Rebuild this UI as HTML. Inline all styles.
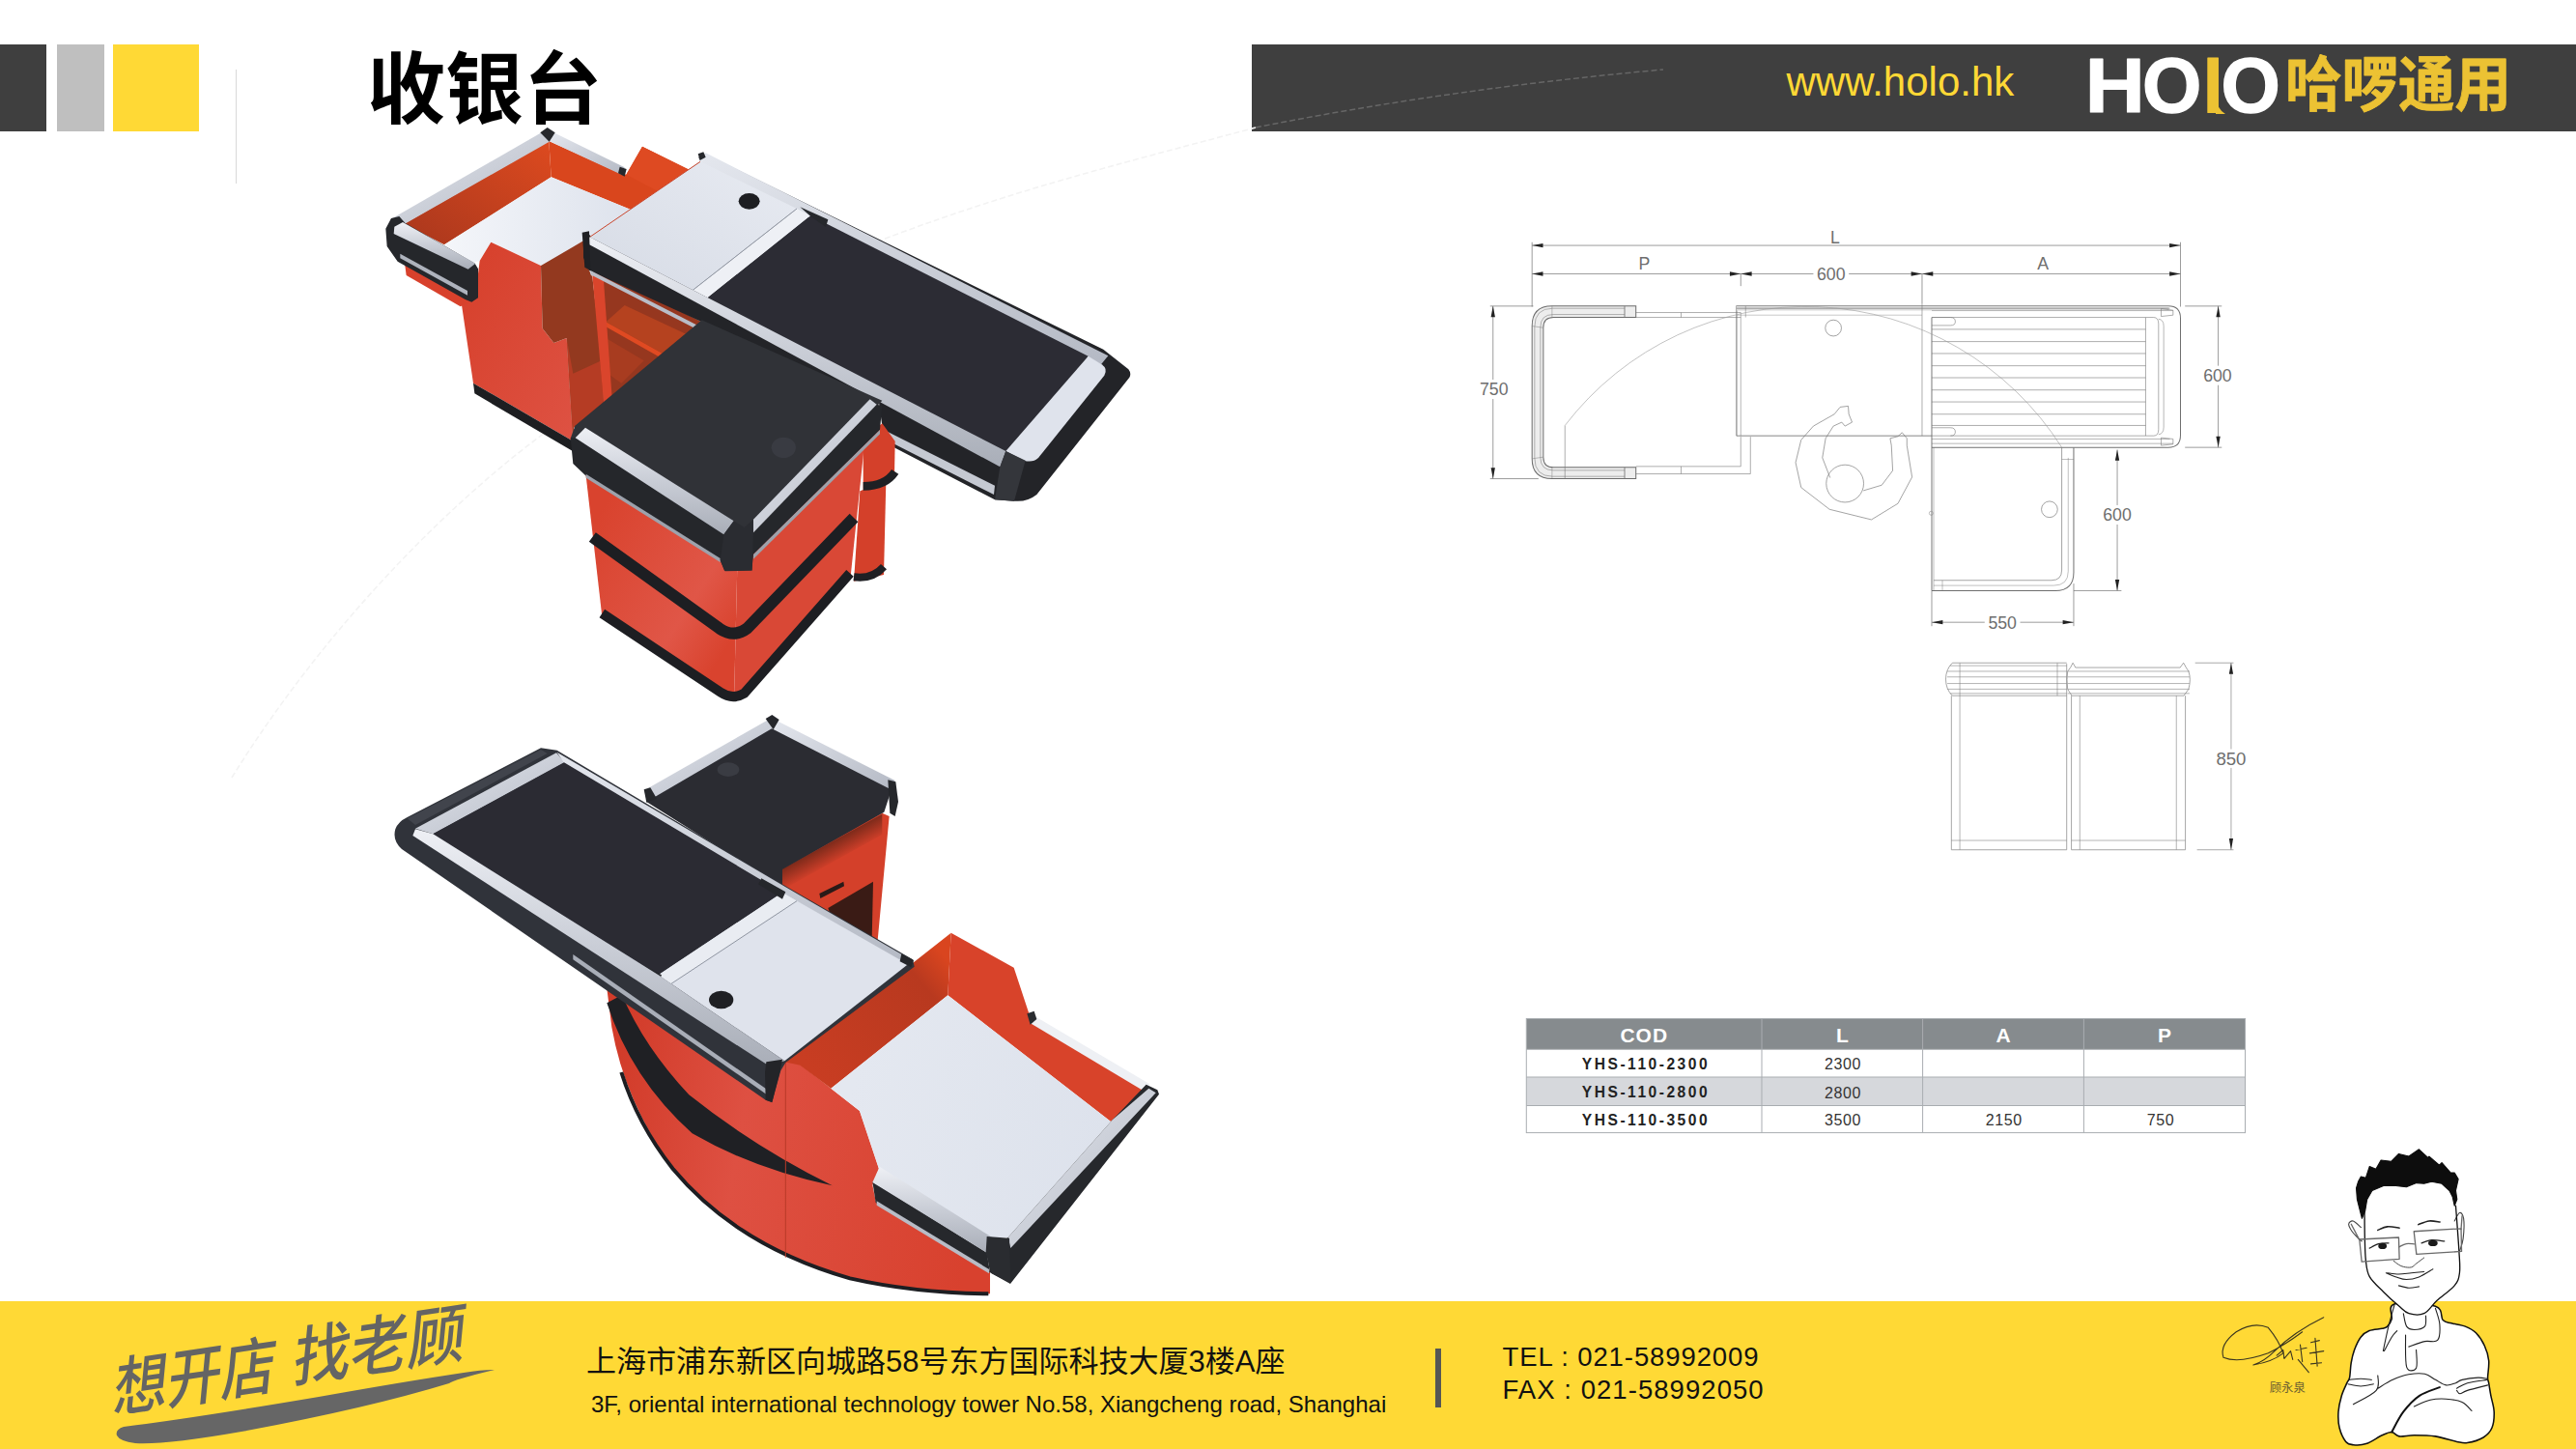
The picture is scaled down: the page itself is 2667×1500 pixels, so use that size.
<!DOCTYPE html>
<html lang="zh">
<head>
<meta charset="utf-8">
<title>收银台</title>
<style>
html,body{margin:0;padding:0;background:#fff;}
body{width:2667px;height:1500px;position:relative;overflow:hidden;font-family:"Liberation Sans","Noto Sans CJK SC",sans-serif;}
.abs{position:absolute;}
.blk{position:absolute;top:46px;height:90px;}
#title{left:380px;top:35px;font-size:81px;font-weight:700;line-height:116px;color:#000;white-space:nowrap;font-family:"Liberation Sans","Noto Sans CJK SC",sans-serif;}
#hbar{left:1296px;top:46px;width:1371px;height:90px;background:#3f3f3f;}
#url{left:1849.5px;top:64px;font-size:42px;line-height:42px;color:#fdd835;white-space:nowrap;}
#holo{left:2160px;top:46px;height:90px;white-space:nowrap;}
#footer{left:0;top:1347px;width:2667px;height:153px;background:#ffd935;}
.ft{position:absolute;white-space:nowrap;color:#111;}
#g{position:absolute;left:0;top:0;width:2667px;height:1500px;}
table{border-collapse:collapse;}
</style>
</head>
<body>
<!-- header blocks -->
<div class="blk" style="left:0;width:48px;background:#3f3f3f"></div>
<div class="blk" style="left:59px;width:49px;background:#bfbfbf"></div>
<div class="blk" style="left:117px;width:89px;background:#ffd935"></div>
<div class="abs" style="left:244px;top:72px;width:1px;height:118px;background:#d9d9d9"></div>
<div id="title" class="abs">收银台</div>
<div id="hbar" class="abs"></div>
<div id="url" class="abs">www.holo.hk</div>

<!-- footer -->
<div id="footer" class="abs"></div>

<!-- GRAPHICS -->
<svg id="g" viewBox="0 0 2667 1500">
<!-- faint decorative arc -->
<path d="M240,805 C330,660 450,535 552,457 S800,290 927,243 S1150,172 1300,132" fill="none" stroke="#f3f3f3" stroke-width="1.6" stroke-dasharray="6 3"/>
<path d="M1300,132 Q1500,92 1722,72" fill="none" stroke="#666" stroke-width="1.5" stroke-dasharray="6 3"/>
<!-- table -->
<g font-family="'Liberation Sans',sans-serif">
<rect x="1580.3" y="1054.5" width="744.2" height="31.8" fill="#868b8e"/>
<rect x="1580.3" y="1086.3" width="744.2" height="28.7" fill="#ffffff"/>
<rect x="1580.3" y="1115" width="744.2" height="29.5" fill="#d6d8dc"/>
<rect x="1580.3" y="1144.5" width="744.2" height="28.1" fill="#ffffff"/>
<g stroke="#a9adb1" stroke-width="1" fill="none">
<rect x="1580.3" y="1054.5" width="744.2" height="118.1"/>
<path d="M1824,1054.5 V1172.6 M1990.6,1054.5 V1172.6 M2157.4,1054.5 V1172.6 M1580.3,1086.3 H2324.5 M1580.3,1115 H2324.5 M1580.3,1144.5 H2324.5"/>
</g>
<g fill="#fff" font-weight="700" font-size="21" text-anchor="middle">
<text x="1702.3" y="1078.8" letter-spacing="1">COD</text><text x="1907.3" y="1078.8">L</text><text x="2074" y="1078.8">A</text><text x="2241" y="1078.8">P</text>
</g>
<g fill="#222" font-weight="700" font-size="15.6" text-anchor="middle" letter-spacing="2.5">
<text x="1704" y="1107.2">YHS-110-2300</text><text x="1704" y="1136.3">YHS-110-2800</text><text x="1704" y="1165">YHS-110-3500</text>
</g>
<g fill="#333" font-size="16" text-anchor="middle" letter-spacing="0.6">
<text x="1908" y="1107.4">2300</text><text x="1908" y="1136.5">2800</text><text x="1908" y="1165.2">3500</text><text x="2074.7" y="1165.2">2150</text><text x="2237" y="1165.2">750</text>
</g>
</g>

<!-- PRODUCT 1 (coords in 3x tile space, origin 380,120) -->
<defs>
<linearGradient id="alu" x1="0" y1="0" x2="0" y2="1"><stop offset="0" stop-color="#eef0f5"/><stop offset="0.5" stop-color="#c9cdd6"/><stop offset="1" stop-color="#a9aeb8"/></linearGradient>
<linearGradient id="aluD" x1="0" y1="0" x2="1" y2="1"><stop offset="0" stop-color="#e4e7ee"/><stop offset="1" stop-color="#b4b9c4"/></linearGradient>
<linearGradient id="redL" x1="0" y1="1" x2="1" y2="0"><stop offset="0" stop-color="#a9371d"/><stop offset="1" stop-color="#dd4a1f"/></linearGradient>
<linearGradient id="redF" x1="0" y1="0" x2="1" y2="1"><stop offset="0" stop-color="#d63f2a"/><stop offset="1" stop-color="#de5243"/></linearGradient>
<linearGradient id="floor1" x1="0" y1="0" x2="1" y2="0"><stop offset="0" stop-color="#f4f6fa"/><stop offset="1" stop-color="#dde2ec"/></linearGradient>
<linearGradient id="plate1" x1="0" y1="1" x2="1" y2="0"><stop offset="0" stop-color="#d6dbe5"/><stop offset="1" stop-color="#e8ebf2"/></linearGradient>
</defs>
<g transform="translate(380 120) scale(0.333333)">
<!-- tray inner walls -->
<polygon points="115,335 565,78 572,190 240,400" fill="url(#redL)"/>
<polygon points="565,78 790,180 805,182 855,95 1002,168 832,296 572,190" fill="#d9461d"/>
<polygon points="855,95 1002,168 905,235 805,182" fill="#de4a22"/>
<!-- floor -->
<polygon points="240,400 572,190 832,296 700,384 540,465 385,392 350,450 330,455" fill="url(#floor1)"/>
<!-- tray rails -->
<polygon points="72,322 548,48 566,80 112,338" fill="url(#aluD)"/>
<polygon points="580,52 800,160 790,182 565,78" fill="url(#aluD)"/>
<polygon points="538,52 560,36 584,52 566,80" fill="#26282c"/>
<polygon points="785,158 806,165 800,188 780,178" fill="#26282c"/>
<!-- main cabinet left face -->
<polygon points="385,392 540,465 545,660 580,705 620,690 640,1010 330,830 290,560 335,570 350,450" fill="url(#redF)"/>
<polygon points="330,830 640,1010 640,1042 334,862" fill="#1d1e21"/>
<!-- brown side face -->
<polygon points="540,465 672,388 690,480 700,500 725,720 735,891 642,968 640,1010 620,690 580,705 545,660" fill="#93391f"/>
<polygon points="620,690 640,1010 642,968 735,891 728,760 640,800" fill="#b53c24"/>
<!-- interior -->
<polygon points="700,470 1040,640 1040,665 760,885 735,891" fill="#96371f"/>
<polygon points="742,640 800,588 1000,682 930,745" fill="#b5421f"/><polygon points="742,640 930,745 925,758 742,655" fill="#e04a22"/>
<polygon points="742,690 860,760 790,830 748,800" fill="#a83c20"/>
<polygon points="700,495 735,512 761,875 735,891" fill="#da452c"/>
<!-- red band under near rail -->
<polygon points="116,450 325,575 290,592 122,495" fill="#d8412c"/>
<!-- tray near rail -->
<polygon points="58,350 75,318 100,312 118,332 335,458 345,475 345,565 325,578 305,570 95,452 62,405" fill="#25272b"/>
<polygon points="85,344 111,330 337,458 314,476 83,366" fill="url(#alu)"/>
<polygon points="103,428 312,543 312,557 103,442" fill="#aeb3bd"/>
<!-- conveyor silhouette -->
<path d="M1030,128 L1050,118 L2287,725 L2365,787 Q2375,800 2368,812 L2080,1176 Q2050,1200 2010,1196 L1950,1192 L1607,1014 L1590,890 L1040,640 L690,480 L672,440 L672,372 L690,368 L700,380 L1035,142 Z" fill="#232428"/>
<!-- far rail -->
<polygon points="1035,122 1052,115 2302,745 2280,772 1032,144" fill="url(#aluD)"/>
<polygon points="1028,118 1045,112 1052,128 1034,138" fill="#26282c"/>
<!-- gray plate -->
<polygon points="1035,142 1335,288 1012,541 692,376" fill="url(#plate1)"/>
<polygon points="1335,288 1378,310 1058,565 1012,541" fill="#eef0f5"/>
<line x1="1335" y1="288" x2="1012" y2="541" stroke="#9096a2" stroke-width="3"/>
<line x1="692" y1="376" x2="1035" y2="142" stroke="#c9452c" stroke-width="3"/>
<ellipse cx="1187" cy="265" rx="33" ry="25" fill="#1d1e22"/>
<!-- belt -->
<polygon points="1378,310 2240,746 1984,1041 1058,565" fill="#2c2c34"/>
<polygon points="1345,283 1432,322 1425,345 1378,312" fill="#26282c"/>
<!-- end plate -->
<path d="M2240,746 L2282,772 Q2302,786 2290,806 L2085,1062 Q2068,1078 2040,1070 L1984,1041 Z" fill="#dfe3ec"/>
<!-- near rail -->
<polygon points="692,376 1984,1041 1966,1090 682,395" fill="url(#alu)"/>
<polygon points="668,362 690,358 694,480 676,470" fill="#1f2024"/>
<!-- lower alu strip on near side -->
<polygon points="1595,970 1950,1148 1947,1176 1597,998" fill="#c5c9d2"/>
<polygon points="694,480 1035,655 1035,668 694,493" fill="#b9bdc7"/>
<!-- end corner -->
<polygon points="1984,1041 2045,1070 2010,1196 1950,1192 1966,1090" fill="#34363b"/>

<!-- right cylinder -->
<polygon points="1541,1005 1600,955 1640,1010 1638,1120 1541,1160" fill="#d4402a"/>
<polygon points="1531,1165 1612,1135 1605,1425 1512,1445" fill="#d4402a"/>
<path d="M1541,1150 Q1610,1150 1640,1105" stroke="#1f2024" stroke-width="26" fill="none"/>
<path d="M1512,1432 Q1570,1440 1605,1400" stroke="#1f2024" stroke-width="24" fill="none"/>
<!-- front cabinet red faces -->
<linearGradient id="cabL" gradientUnits="userSpaceOnUse" x1="680" y1="1300" x2="1150" y2="1600"><stop offset="0" stop-color="#d9432e"/><stop offset="0.7" stop-color="#e05647"/><stop offset="1" stop-color="#d9432e"/></linearGradient>
<polygon points="678,1100 1150,1395 1140,1815 1100,1800 730,1555" fill="url(#cabL)"/>
<polygon points="1150,1395 1548,990 1502,1430 1172,1808 1140,1815" fill="#d94836"/>
<path d="M700,1308 L1095,1592 Q1140,1622 1180,1592 L1512,1248" stroke="#1d1e22" stroke-width="36" fill="none"/>
<path d="M730,1545 L1098,1790 Q1135,1815 1172,1793 L1500,1420" stroke="#1d1e22" stroke-width="30" fill="none"/>
<!-- black top -->
<polygon points="632,1002 646,962 1040,634 1600,884 1185,1310 1110,1310" fill="#303237"/>
<!-- band under strips -->
<polygon points="632,1000 647,1000 1108,1300 1200,1294 1583,896 1600,900 1593,975 1200,1362 1195,1410 1110,1412 1097,1380 678,1116 640,1080" fill="#25272b"/>
<polygon points="680,1112 1097,1374 1097,1386 680,1124" fill="#9da2ac"/>
<polygon points="1200,1362 1593,975 1593,988 1200,1376" fill="#9da2ac"/>
<!-- strips -->
<polygon points="678,968 1139,1258 1108,1300 647,1000" fill="url(#alu)"/>
<polygon points="1200,1253 1562,880 1583,896 1200,1294" fill="url(#aluD)"/>
<polygon points="1108,1300 1139,1258 1172,1278 1200,1253 1200,1294 1196,1412 1112,1414 1097,1380" fill="#2a2c31"/>
<ellipse cx="1294" cy="1030" rx="38" ry="32" fill="#393b42"/>
</g>

<!-- PRODUCT 2 (coords in 3x tile space, origin 380,730) -->
<defs>
<linearGradient id="drum" gradientUnits="userSpaceOnUse" x1="750" y1="1300" x2="1900" y2="1500"><stop offset="0" stop-color="#d23c2a"/><stop offset="0.35" stop-color="#de5042"/><stop offset="1" stop-color="#d8412e"/></linearGradient>
<linearGradient id="wallL" gradientUnits="userSpaceOnUse" x1="1400" y1="1150" x2="1810" y2="800"><stop offset="0" stop-color="#c83d22"/><stop offset="0.8" stop-color="#b8391f"/><stop offset="1" stop-color="#d9451f"/></linearGradient>
<linearGradient id="floor2" gradientUnits="userSpaceOnUse" x1="1500" y1="1200" x2="2300" y2="1400"><stop offset="0" stop-color="#e4e8f0"/><stop offset="1" stop-color="#dde2ec"/></linearGradient>
</defs>
<g transform="translate(380 730) scale(0.333333)">
<!-- back cabinet -->
<polygon points="1270,505 1600,335 1622,345 1586,730 1300,575 1270,560" fill="#d4402a"/>
<linearGradient id="shad2" gradientUnits="userSpaceOnUse" x1="1440" y1="425" x2="1470" y2="480"><stop offset="0" stop-color="#7c2a1a"/><stop offset="1" stop-color="#d4402a"/></linearGradient><polygon points="1270,520 1600,338 1600,402 1270,585" fill="url(#shad2)"/>
<polygon points="1432,630 1572,548 1568,730 1440,655" fill="#3a1b15"/>
<polygon points="1405,585 1480,548 1482,562 1408,600" fill="#2a1a18"/>
<polygon points="868,268 1255,48 1636,240 1606,332 1290,510 1290,565 868,300" fill="#2b2c32"/>
<polygon points="866,262 1248,44 1262,70 895,284" fill="url(#aluD)"/>
<polygon points="1268,46 1640,234 1624,260 1256,72" fill="url(#aluD)"/>
<polygon points="1238,42 1258,30 1280,45 1262,76" fill="#25272b"/>
<polygon points="1618,232 1642,238 1650,300 1640,345 1624,335" fill="#25272b"/>
<polygon points="860,262 880,256 900,290 868,302" fill="#25272b"/>
<ellipse cx="1122" cy="200" rx="34" ry="22" fill="#3a3c43"/>
<!-- drum -->
<path d="M745,880 L760,1000 Q800,1230 950,1440 Q1150,1680 1500,1780 Q1700,1825 1935,1828 L1935,1760 L1580,1540 L1570,1490 L1590,1440 L1530,1260 L1345,1115 L1300,1100 Z" fill="url(#drum)"/>
<path d="M790,1140 Q840,1300 950,1440 Q1150,1680 1500,1780 Q1700,1825 1930,1828" fill="none" stroke="#1d1e22" stroke-width="12"/>
<path d="M792,900 Q860,1060 1000,1210 Q1200,1370 1445,1492 Q1200,1440 1010,1330 Q820,1160 745,925 Z" fill="#1f2024"/>
<line x1="1300" y1="1100" x2="1300" y2="1715" stroke="#b93a28" stroke-width="3"/>
<!-- tray -->
<polygon points="1297,1108 1690,805 1814,707 1804,901 1441,1190 1345,1118" fill="url(#wallL)"/>
<polygon points="1814,707 2009,815 2062,976 2068,980 2430,1190 2310,1293 1804,901" fill="#d8432a"/>
<polygon points="1441,1190 1804,901 2310,1293 1991,1653 1940,1655 1590,1440 1530,1260" fill="url(#floor2)"/>
<polygon points="2064,960 2430,1176 2422,1204 2058,986" fill="#eef0f4"/>
<polygon points="2050,958 2072,950 2080,975 2060,992" fill="#2a2c30"/>
<!-- end rail -->
<polygon points="2420,1178 2455,1195 2460,1208 1998,1797 1935,1762 1925,1700 1991,1653 2316,1287" fill="#26282c"/>
<polygon points="2316,1287 2428,1190 2450,1204 1999,1686 1991,1653" fill="url(#aluD)"/>
<!-- near rail -->
<polygon points="1570,1480 1925,1700 1935,1762 1580,1545" fill="#26282c"/>
<polygon points="1592,1433 1942,1653 1925,1700 1570,1482" fill="url(#alu)"/>
<polygon points="1583,1540 1932,1752 1932,1765 1583,1553" fill="#b8bcc6"/>
<polygon points="1925,1650 1995,1655 1999,1795 1940,1765 1922,1700" fill="#2a2c30"/>
<!-- conveyor silhouette -->
<path d="M540,133 L590,140 L1300,562 L1695,790 L1700,812 L1300,1110 L1285,1135 L1258,1232 L1238,1226 L108,447 Q78,420 88,385 Q96,362 125,348 Z" fill="#30333a"/>
<path d="M125,352 L540,138 L560,150 L150,372 Z" fill="#41444c"/>
<!-- frame -->
<polygon points="150,383 588,148 614,178 205,400" fill="url(#aluD)"/>
<polygon points="590,146 1300,565 1692,792 1680,808 1290,584 612,180" fill="url(#aluD)"/>
<!-- belt -->
<polygon points="205,400 612,178 1290,582 905,838" fill="#2b2b33"/>
<!-- plate -->
<polygon points="1290,582 1680,805 1297,1105 905,838" fill="#dfe3ec"/>
<polygon points="1290,582 1335,608 945,865 905,838" fill="#e9ecf2"/>
<line x1="1335" y1="608" x2="945" y2="865" stroke="#8f95a1" stroke-width="3"/>
<ellipse cx="1100" cy="915" rx="38" ry="28" fill="#1f2024"/>
<polygon points="1225,538 1300,580 1290,602 1215,556" fill="#25272b"/>
<polygon points="835,795 915,838 905,860 825,815" fill="#25272b"/>
<polygon points="1660,772 1698,792 1690,814 1655,796" fill="#25272b"/>
<!-- near rail -->
<polygon points="150,385 205,400 905,838 1297,1105 1248,1120 142,405" fill="url(#alu)"/>
<polygon points="640,774 1240,1192 1240,1208 640,790" fill="#a9aeb8"/>
<polygon points="1240,1108 1290,1100 1282,1140 1258,1234 1238,1226 1236,1140" fill="#232428"/>
</g>

<!-- TECH DRAWING -->
<g transform="translate(1500 220) scale(0.33400)" fill="none" stroke="#777" stroke-width="2.7" font-family="'Liberation Sans',sans-serif">
<path d="M258,102 L2268,102" stroke="#6a6a6a" stroke-width="2"/>
<polygon points="258,102 292,95.5 292,108.5" fill="#222" stroke="none"/>
<polygon points="2268,102 2234,95.5 2234,108.5" fill="#222" stroke="none"/>
<path d="M258,190 L2268,190" stroke="#6a6a6a" stroke-width="2"/>
<polygon points="258,190 292,183.5 292,196.5" fill="#222" stroke="none"/>
<polygon points="2268,190 2234,183.5 2234,196.5" fill="#222" stroke="none"/>
<polygon points="905,190 871,183.5 871,196.5" fill="#222" stroke="none"/>
<polygon points="905,190 939,183.5 939,196.5" fill="#222" stroke="none"/>
<polygon points="1467,190 1433,183.5 1433,196.5" fill="#222" stroke="none"/>
<polygon points="1467,190 1501,183.5 1501,196.5" fill="#222" stroke="none"/>
<path d="M258,92 L258,292" stroke="#6a6a6a" stroke-width="2"/>
<path d="M2268,92 L2268,292" stroke="#6a6a6a" stroke-width="2"/>
<path d="M905,190 L905,228" stroke="#6a6a6a" stroke-width="2"/>
<path d="M1467,190 L1467,282" stroke="#6a6a6a" stroke-width="2"/>
<text x="1197" y="95.08" font-size="53" text-anchor="middle" fill="#6e6e6e" stroke="none">L</text>
<text x="606" y="177.07999999999998" font-size="53" text-anchor="middle" fill="#6e6e6e" stroke="none">P</text>
<text x="1842" y="177.07999999999998" font-size="53" text-anchor="middle" fill="#6e6e6e" stroke="none">A</text>
<rect x="1130.0" y="165.0" width="110" height="50" fill="#fff" stroke="none"/>
<text x="1185" y="209.07999999999998" font-size="53" text-anchor="middle" fill="#6e6e6e" stroke="none">600</text>
<path d="M137,290 L137,825" stroke="#6a6a6a" stroke-width="2"/>
<polygon points="137,290 130.5,324 143.5,324" fill="#222" stroke="none"/>
<polygon points="137,825 130.5,791 143.5,791" fill="#222" stroke="none"/>
<path d="M128,290 L262,290" stroke="#6a6a6a" stroke-width="2"/>
<path d="M128,825 L278,825" stroke="#6a6a6a" stroke-width="2"/>
<rect x="90.0" y="518.0" width="100" height="60" fill="#fff" stroke="none"/>
<text x="140" y="567.08" font-size="53" text-anchor="middle" fill="#6e6e6e" stroke="none">750</text>
<path d="M580,290 L320,290 Q258,290 258,352 L258,763 Q258,825 320,825 L580,825 L580,790 L325,790 Q293,790 293,758 L293,357 Q293,325 325,325 L580,325 Z" fill="#ededed" stroke="#6c6c6c" stroke-width="3"/>
<path d="M545,297 L322,297 Q266,297 266,354 L266,761 Q266,818 322,818 L545,818" stroke-width="1.6"/>
<path d="M545,316 L324,316 Q284,316 284,356 L284,759 Q284,799 324,799 L545,799" stroke-width="1.6"/>
<path d="M545,290 L545,325" />
<path d="M545,790 L545,825" />
<path d="M320,290 L320,325" stroke-width="1.4"/>
<path d="M320,790 L320,825" stroke-width="1.4"/>
<path d="M258,352 L293,357" stroke-width="1.4"/>
<path d="M258,763 L293,758" stroke-width="1.4"/>
<path d="M360,660 L360,825" stroke-width="1.8"/>
<path d="M580,310 L905,310" stroke-width="1.8"/>
<path d="M580,325 L905,325" stroke-width="1.8"/>
<path d="M720,310 L720,325" stroke-width="1.8"/>
<path d="M580,787 L905,787 L905,695" stroke-width="1.8"/>
<path d="M580,810 L935,810 L935,695" stroke-width="1.8"/>
<path d="M720,787 L720,810" stroke-width="1.8"/>
<path d="M892,692 L892,290 L2230,290 Q2268,290 2268,328 L2268,690 Q2268,728 2230,728 L1497,728" stroke="#6f6f6f" stroke-width="3"/>
<rect x="892" y="290" width="1340" height="14" fill="#dcdcdc" stroke="none"/>
<path d="M892,297 L2235,297" stroke-width="2"/>
<path d="M905,310 L905,692" stroke-width="1.6"/>
<path d="M892,692 L1497,692" />
<path d="M1467,282 L1467,692" stroke-width="1.8"/>
<path d="M1497,325 L1497,1172" stroke="#6f6f6f" stroke-width="2.8"/>
<path d="M920,290 L920,325" stroke-width="1.6"/>
<path d="M892,318 L1467,318" stroke-width="1.2"/>
<path d="M1497,325 L2160,325" stroke-width="1.8"/>
<path d="M1497,362 L2160,362" stroke-width="1.8"/>
<path d="M1497,400 L2160,400" stroke-width="1.8"/>
<path d="M1497,437 L2160,437" stroke-width="1.8"/>
<path d="M1497,475 L2160,475" stroke-width="1.8"/>
<path d="M1497,512 L2160,512" stroke-width="1.8"/>
<path d="M1497,550 L2160,550" stroke-width="1.8"/>
<path d="M1497,587 L2160,587" stroke-width="1.8"/>
<path d="M1497,625 L2160,625" stroke-width="1.8"/>
<path d="M1497,660 L2160,660" stroke-width="1.8"/>
<path d="M1497,692 L2160,692" stroke-width="1.8"/>
<path d="M2160,325 L2160,692" stroke-width="1.8"/>
<path d="M2160,325 L2185,325 Q2200,325 2200,345 L2200,672 Q2200,692 2185,692 L2160,692" stroke-width="1.8"/>
<path d="M2200,330 Q2216,332 2216,352 L2216,665 Q2216,686 2200,688" stroke-width="1.6"/>
<path d="M1497,702 L2235,702" stroke-width="1.6"/>
<path d="M1497,716 L2245,716" stroke-width="1.6"/>
<path d="M1497,304 L2245,304" stroke-width="1.4"/>
<polygon points="2208,298 2245,303 2245,318 2208,322" stroke-width="1.8"/>
<polygon points="2208,698 2245,702 2245,718 2208,722" stroke-width="1.8"/>
<path d="M1497,325 L1555,325 Q1570,325 1570,338 Q1570,350 1555,350 L1497,350" stroke-width="1.8"/>
<path d="M1497,667 L1555,667 Q1570,667 1570,680 Q1570,692 1555,692" stroke-width="1.8"/>
<circle cx="1192" cy="358" r="25" stroke-width="2"/>
<path d="M2385,290 L2385,728" stroke="#6a6a6a" stroke-width="2"/>
<polygon points="2385,290 2378.5,324 2391.5,324" fill="#222" stroke="none"/>
<polygon points="2385,728 2378.5,694 2391.5,694" fill="#222" stroke="none"/>
<path d="M2282,290 L2396,290" stroke="#6a6a6a" stroke-width="2"/>
<path d="M2282,728 L2396,728" stroke="#6a6a6a" stroke-width="2"/>
<rect x="2328.0" y="475.0" width="110" height="60" fill="#fff" stroke="none"/>
<text x="2383" y="524.08" font-size="53" text-anchor="middle" fill="#6e6e6e" stroke="none">600</text>
<path d="M1497,1172 L1880,1172 Q1937,1172 1937,1115 L1937,728" stroke="#6f6f6f" stroke-width="3"/>
<path d="M1503,1140 L1868,1140 Q1900,1140 1900,1108 L1900,728" stroke-width="2"/>
<path d="M1503,1156 L1875,1156 Q1920,1156 1920,1112 L1920,760" stroke-width="1.4"/>
<path d="M1503,728 L1503,1172" stroke-width="1.4"/>
<path d="M1900,765 L1937,765" stroke-width="1.4"/>
<path d="M1530,1140 L1530,1172" stroke-width="1.4"/>
<circle cx="1862" cy="920" r="25" stroke-width="2"/>
<circle cx="1495" cy="932" r="6" stroke-width="1.4"/>
<path d="M2072,735 L2072,1172" stroke="#6a6a6a" stroke-width="2"/>
<polygon points="2072,735 2065.5,769 2078.5,769" fill="#222" stroke="none"/>
<polygon points="2072,1172 2065.5,1138 2078.5,1138" fill="#222" stroke="none"/>
<path d="M1937,1172 L2085,1172" stroke="#6a6a6a" stroke-width="2"/>
<rect x="2017.0" y="907.0" width="110" height="60" fill="#fff" stroke="none"/>
<text x="2072" y="956.08" font-size="53" text-anchor="middle" fill="#6e6e6e" stroke="none">600</text>
<path d="M1497,1270 L1937,1270" stroke="#6a6a6a" stroke-width="2"/>
<polygon points="1497,1270 1531,1263.5 1531,1276.5" fill="#222" stroke="none"/>
<polygon points="1937,1270 1903,1263.5 1903,1276.5" fill="#222" stroke="none"/>
<path d="M1497,1172 L1497,1282" stroke="#6a6a6a" stroke-width="2"/>
<path d="M1937,1150 L1937,1282" stroke="#6a6a6a" stroke-width="2"/>
<rect x="1661.0" y="1245.0" width="110" height="50" fill="#fff" stroke="none"/>
<text x="1716" y="1289.08" font-size="53" text-anchor="middle" fill="#6e6e6e" stroke="none">550</text>
<path d="M360,660 A940,940 0 0 1 1900,728" stroke="#9a9a9a" stroke-width="1.8"/>
<circle cx="1228" cy="840" r="58" stroke-width="2" fill="#fff"/>
<path d="M1213,603 L1238,600 L1240,625 L1250,650 L1228,662 L1218,650 L1192,662 L1168,700 L1158,760 L1182,822" stroke-width="2"/>
<path d="M1213,603 L1195,625 L1130,662 L1092,705 L1075,775 L1092,852 L1180,920 L1310,952 L1392,902 L1436,820 L1420,722 L1420,700 L1405,682 L1392,694 L1368,700 L1372,722 L1376,800 L1342,845 L1285,862" stroke-width="2"/>
</g>
<g transform="translate(1900 660) scale(0.19410)" fill="none" stroke="#808080" stroke-width="3.6" font-family="'Liberation Sans',sans-serif">
<path d="M620,310 L620,1132 L1235,1132 L1235,140"/>
<path d="M665,135 L665,1132" stroke-width="3"/>
<path d="M620,1082 L1235,1082" stroke-width="3"/>
<path d="M1235,135 L625,135 Q590,170 590,222 Q590,275 625,310 L1235,310"/>
<path d="M612,150 L1235,150" stroke-width="3"/>
<path d="M598,180 L1235,180" stroke-width="3"/>
<path d="M598,210 L1235,210" stroke-width="3"/>
<path d="M598,245 L1235,245" stroke-width="3"/>
<path d="M598,275 L1235,275" stroke-width="3"/>
<path d="M612,298 L1235,298" stroke-width="3"/>
<path d="M1185,135 L1185,310" stroke-width="3"/>
<path d="M1260,310 L1260,1132 L1868,1132 L1868,310"/>
<path d="M1305,310 L1305,1132" stroke-width="3"/>
<path d="M1820,310 L1820,1132" stroke-width="3"/>
<path d="M1260,1082 L1868,1082" stroke-width="3"/>
<path d="M1240,180 L1255,160 L1268,135 L1282,160 L1840,160 L1858,135 L1872,160 L1885,180 Q1900,222 1885,275 L1860,310 L1262,310 L1240,275 Q1232,222 1240,180 Z"/>
<path d="M1240,180 L1890,180" stroke-width="3"/>
<path d="M1240,210 L1890,210" stroke-width="3"/>
<path d="M1240,245 L1890,245" stroke-width="3"/>
<path d="M1240,275 L1890,275" stroke-width="3"/>
<path d="M1240,298 L1890,298" stroke-width="3"/>
<path d="M2112,135 L2112,1132" stroke="#6a6a6a" stroke-width="3"/>
<polygon points="2112,135 2101,195 2123,195" fill="#222" stroke="none"/>
<polygon points="2112,1132 2101,1072 2123,1072" fill="#222" stroke="none"/>
<path d="M1920,135 L2125,135" stroke="#6a6a6a" stroke-width="3"/>
<path d="M1930,1132 L2125,1132" stroke="#6a6a6a" stroke-width="3"/>
<rect x="2030" y="595" width="170" height="100" fill="#fff" stroke="none"/>
<text x="2112" y="680" font-size="96" text-anchor="middle" fill="#6e6e6e" stroke="none">850</text>
</g>

<!--LOGO-->
<g font-family="'Liberation Sans','Noto Sans CJK SC',sans-serif" font-weight="700" stroke-linejoin="round">
<text x="2158.7" y="116" font-size="78.8" fill="#fff" stroke="#fff" stroke-width="1.2" textLength="62" lengthAdjust="spacingAndGlyphs">H</text>
<text x="2218" y="116" font-size="78.8" fill="#fff" stroke="#fff" stroke-width="1.4">O</text>
<text x="2299.5" y="116" font-size="78.8" fill="#fff" stroke="#fff" stroke-width="1.4">O</text>
<text x="2280.5" y="116.5" font-size="77" fill="#ecc233" stroke="#ecc233" stroke-width="1">l</text>
<path d="M2294 98 Q2295 113 2304 118 L2294 118 Z" fill="#ecc233"/>
<text transform="translate(2366,110) scale(1,1.065)" x="0" y="0" font-size="58.5" fill="#ecc233" stroke="#ecc233" stroke-width="0.8" font-family="'Noto Sans CJK SC',sans-serif">哈啰通用</text>
</g>
<!--FOOT-->
<g font-family="'Liberation Sans','Noto Sans CJK SC',sans-serif" fill="#111">
<text x="607" y="1420" font-size="31">上海市浦东新区向城路58号东方国际科技大厦3楼A座</text>
<text x="612" y="1462" font-size="24">3F, oriental international technology tower No.58, Xiangcheng road, Shanghai</text>
<rect x="1486" y="1396" width="6" height="61" fill="#555"/>
<text x="1555.5" y="1414.2" font-size="27.5" letter-spacing="0.9">TEL : 021-58992009</text>
<text x="1555.5" y="1447.5" font-size="27.5" letter-spacing="1.05">FAX : 021-58992050</text>
</g>
<!-- slogan -->
<g fill="#646464" font-family="'Noto Sans CJK SC','WenQuanYi Zen Hei',sans-serif" font-weight="500" font-size="56">
<g transform="translate(116 1462) rotate(-8.5) skewX(-14) scale(1,1.18)"><text x="0" y="0" textLength="170" lengthAdjust="spacingAndGlyphs">想开店</text><text x="188" y="-3" textLength="180" lengthAdjust="spacingAndGlyphs">找老顾</text></g>
</g>
<path d="M121,1486 Q119,1480 128,1477 Q200,1468 330,1446 Q420,1430 480,1421 Q500,1418 512,1418 Q470,1428 465,1432 Q380,1458 250,1482 Q170,1496 140,1494 Q124,1492 121,1486 Z" fill="#666"/>
<!-- cartoon man (zoom coords, origin 2260,1180, scale 4.528) -->
<g transform="translate(2260 1180) scale(0.22085)" stroke-linejoin="round" stroke-linecap="round">
<!-- signature -->
<g fill="none" stroke="#3a3520" stroke-width="5">
<path d="M660,832 Q520,900 430,990 Q380,1040 330,1055 Q420,1040 470,1000 Q450,940 400,880 Q330,850 250,900 Q170,960 190,1020 Q260,1050 400,1000 Q480,960 560,900"/>
<path d="M440,1010 L470,985 L475,1025 L505,990 L515,1030 M530,985 L580,975 M550,960 L560,1040 M540,1030 L590,1090 M600,950 L640,940 M620,930 L630,1060 M595,1000 L660,990 M600,1050 L650,1045"/>
</g>
<text x="490" y="1180" font-size="56" fill="#6b6030" stroke="none" text-anchor="middle" font-family="'Noto Sans CJK SC',sans-serif">顾永泉</text>
<!-- body -->
<path d="M991.4,769.5 C957.2,779.5 984.3,822.0 978.9,839.5 C973.5,857.0 966.4,867.0 958.9,874.5 C951.4,882.0 948.1,881.2 933.9,884.5 C919.7,887.8 890.6,887.8 873.9,894.5 C857.2,901.2 845.6,909.5 833.9,924.5 C822.2,939.5 811.4,964.5 803.9,984.5 C796.4,1004.5 792.6,1022.8 788.9,1044.5 C785.1,1066.2 784.7,1098.7 781.4,1114.5 C778.1,1130.3 775.1,1125.3 768.9,1139.5 C762.6,1153.7 750.6,1177.0 743.9,1199.5 C737.2,1222.0 730.6,1249.5 728.9,1274.5 C727.2,1299.5 728.1,1326.2 733.9,1349.5 C739.7,1372.8 753.1,1401.2 763.9,1414.5 C774.7,1427.8 783.1,1427.8 798.9,1429.5 C814.7,1431.2 836.4,1432.0 858.9,1424.5 C881.4,1417.0 913.9,1393.7 933.9,1384.5 C953.9,1375.3 965.6,1368.7 978.9,1369.5 C992.2,1370.3 996.4,1387.0 1013.9,1389.5 C1031.4,1392.0 1055.6,1384.5 1083.9,1384.5 C1112.2,1384.5 1150.6,1384.5 1183.9,1389.5 C1217.2,1394.5 1258.9,1409.5 1283.9,1414.5 C1308.9,1419.5 1313.1,1422.8 1333.9,1419.5 C1354.7,1416.2 1389.7,1406.2 1408.9,1394.5 C1428.1,1382.8 1440.6,1369.5 1448.9,1349.5 C1457.2,1329.5 1459.7,1299.5 1458.9,1274.5 C1458.1,1249.5 1448.1,1222.0 1443.9,1199.5 C1439.7,1177.0 1436.4,1153.7 1433.9,1139.5 C1431.4,1125.3 1428.9,1132.0 1428.9,1114.5 C1428.9,1097.0 1436.4,1059.5 1433.9,1034.5 C1431.4,1009.5 1423.9,986.2 1413.9,964.5 C1403.9,942.8 1388.9,919.5 1373.9,904.5 C1358.9,889.5 1343.1,882.0 1323.9,874.5 C1304.7,867.0 1276.4,864.5 1258.9,859.5 C1241.4,854.5 1231.4,857.8 1218.9,844.5 C1206.4,831.2 1221.8,792.0 1183.9,779.5 C1146.0,767.0 1025.6,759.5 991.4,769.5 Z" fill="#fff" stroke="#111" stroke-width="7"/>
<path d="M991.4,774.5 C986.8,791.2 972.6,838.7 963.9,874.5 C955.1,910.3 943.1,970.3 938.9,989.5 M1003.9,894.5 C999.7,899.5 988.9,908.7 978.9,924.5 C968.9,940.3 949.7,978.7 943.9,989.5 M1033.9,814.5 C1036.4,824.5 1040.6,862.0 1048.9,874.5 C1057.2,887.0 1069.7,889.5 1083.9,889.5 C1098.1,889.5 1124.7,885.3 1133.9,874.5 C1143.1,863.7 1138.1,832.8 1138.9,824.5 M1183.9,789.5 C1187.2,802.0 1202.2,839.5 1203.9,864.5 C1205.6,889.5 1205.6,926.2 1193.9,939.5 C1182.2,952.8 1156.4,939.5 1133.9,944.5 C1111.4,949.5 1071.4,965.3 1058.9,969.5 M1043.9,914.5 C1044.7,939.5 1040.6,1038.7 1048.9,1064.5 C1057.2,1090.3 1086.4,1082.8 1093.9,1069.5 C1101.4,1056.2 1093.9,998.7 1093.9,984.5 M778.9,1124.5 C788.1,1123.7 816.4,1119.5 833.9,1119.5 C851.4,1119.5 875.6,1123.7 883.9,1124.5 M773.9,1144.5 C783.9,1146.2 813.9,1154.5 833.9,1154.5 C853.9,1154.5 883.9,1146.2 893.9,1144.5 M913.9,1104.5 C912.6,1116.2 925.6,1152.0 906.4,1174.5 C887.2,1197.0 816.8,1228.7 798.9,1239.5 M913.9,1164.5 C925.6,1157.8 959.7,1135.3 983.9,1124.5 C1008.1,1113.7 1033.9,1104.1 1058.9,1099.5 C1083.9,1094.9 1113.1,1092.8 1133.9,1097.0 C1154.7,1101.2 1167.2,1115.8 1183.9,1124.5 C1200.6,1133.2 1218.1,1147.0 1233.9,1149.5 C1249.7,1152.0 1266.4,1143.7 1278.9,1139.5 C1291.4,1135.3 1291.4,1128.7 1308.9,1124.5 C1326.4,1120.3 1363.9,1115.3 1383.9,1114.5 C1403.9,1113.7 1421.4,1118.7 1428.9,1119.5 M1283.9,1164.5 C1292.2,1160.3 1310.6,1146.2 1333.9,1139.5 C1357.2,1132.8 1408.9,1127.0 1423.9,1124.5 M1283.9,1174.5 C1286.4,1177.0 1290.6,1189.5 1298.9,1189.5 C1307.2,1189.5 1312.2,1181.2 1333.9,1174.5 C1355.6,1167.8 1413.1,1153.7 1428.9,1149.5 M1083.9,1249.5 C1096.4,1244.5 1133.9,1225.3 1158.9,1219.5 C1183.9,1213.7 1208.9,1212.8 1233.9,1214.5 C1258.9,1216.2 1288.9,1220.3 1308.9,1229.5 C1328.9,1238.7 1346.4,1262.8 1353.9,1269.5" fill="none" stroke="#222" stroke-width="5"/>
<path d="M978.9,1369.5 C988.1,1353.7 1012.2,1302.8 1033.9,1274.5 C1055.6,1246.2 1080.6,1218.7 1108.9,1199.5 C1137.2,1180.3 1188.1,1166.2 1203.9,1159.5" fill="none" stroke="#111" stroke-width="9"/>
<!-- neck/face -->
<polygon points="857.4,225.7 1267.3,225.7 1279.1,308.9 1294.6,522.7 1297.0,623.7 1273.2,683.1 1190.0,754.4 1130.6,813.8 1059.4,813.8 1011.8,778.1 940.6,712.8 875.2,641.5 857.4,564.3 852.6,451.4 851.5,332.6" fill="#fff"/>
<path d="M834.8,409.9 C828.7,404.9 807.6,382.7 798.0,380.2 C788.4,377.7 778.2,387.1 777.2,395.0 C776.2,402.9 785.2,417.3 792.1,427.7 C799.0,438.1 811.1,449.5 818.8,457.4 C826.5,465.3 835.1,472.2 838.4,475.2" fill="#fff" stroke="#444" stroke-width="5"/>
<path d="M1273.2,380.2 C1277.2,373.8 1289.9,343.6 1297.0,341.6 C1304.1,339.6 1313.2,348.0 1316.0,368.3 C1318.8,388.6 1316.8,437.6 1313.6,463.3 C1310.4,489.0 1299.8,512.8 1297.0,522.7" fill="#fff" stroke="#444" stroke-width="5"/>
<path d="M851.5,332.6 C851.7,352.4 851.6,412.8 852.6,451.4 C853.6,490.0 853.6,532.6 857.4,564.3 C861.2,596.0 861.3,616.8 875.2,641.5 C889.1,666.2 917.8,690.0 940.6,712.8 C963.4,735.6 992.0,761.3 1011.8,778.1 C1031.6,794.9 1039.6,807.8 1059.4,813.8 C1079.2,819.8 1108.8,823.7 1130.6,813.8 C1152.4,803.9 1166.2,776.2 1190.0,754.4 C1213.8,732.6 1255.4,704.9 1273.2,683.1 C1291.0,661.3 1293.4,650.4 1297.0,623.7 C1300.6,597.0 1297.6,575.2 1294.6,522.7 C1291.6,470.2 1281.7,344.5 1279.1,308.9" fill="none" stroke="#111" stroke-width="6"/>
<polygon points="839.6,368.3 817.0,279.2 812.9,225.7 821.8,196.0 834.8,172.3 857.4,178.2 875.2,124.7 904.9,136.6 928.7,95.0 976.2,101.0 1011.8,65.3 1059.4,77.2 1106.9,44.5 1148.5,83.2 1154.4,77.2 1201.9,118.8 1213.8,106.9 1255.4,154.4 1273.2,154.4 1291.0,184.1 1279.1,237.6 1285.1,279.2 1273.2,308.9 1264.3,267.3 1249.4,237.6 1213.8,204.9 1166.3,196.0 1130.6,204.9 1095.0,202.0 1047.5,221.0 988.1,213.8 940.6,215.0 887.1,237.6 863.3,279.2 854.4,332.6" fill="#0d0d0d" stroke="#0d0d0d" stroke-width="5"/>
<path d="M827.7,466.3 L1011.8,457.4 L1014.8,558.4 L838.4,571.4 Z M1083.1,428.9 L1304.1,415.8 L1306.5,522.7 L1095.0,535.8 Z" fill="none" stroke="#6a6a6a" stroke-width="6"/>
<path d="M1013.0,501.9 C1018.8,499.4 1035.6,489.4 1047.5,487.1 C1059.4,484.8 1078.2,488.1 1084.3,488.3 M827.7,469.3 L789.1,395.0 M1304.1,418.8 L1308.8,356.4" fill="none" stroke="#6a6a6a" stroke-width="6"/>
<path d="M913.8,422.9 C921.2,420.2 941.6,408.6 958.4,406.9 C975.2,405.2 1005.4,411.8 1014.8,412.8 M1103.9,396.8 C1112.3,394.0 1137.6,382.2 1154.4,380.2 C1171.2,378.2 1196.5,384.1 1204.9,384.9" fill="none" stroke="#222" stroke-width="7"/>
<path d="M875.2,507.9 C882.1,504.4 901.9,491.1 916.8,487.1 C931.6,483.1 956.4,484.6 964.3,484.1 M1118.8,484.1 C1126.7,481.6 1148.5,470.8 1166.3,469.3 C1184.1,467.8 1215.8,474.2 1225.7,475.2" fill="none" stroke="#222" stroke-width="6"/>
<ellipse cx="935.8" cy="497.8" rx="20" ry="14" fill="#1a1a1a"/><ellipse cx="1172.2" cy="484.1" rx="22" ry="14" fill="#1a1a1a"/>
<path d="M988.1,567.3 C992.0,570.3 1003.9,580.5 1011.8,585.1 C1019.7,589.8 1025.7,593.2 1035.6,595.2 C1045.5,597.2 1061.3,599.7 1071.2,597.0 C1081.1,594.3 1085.1,586.5 1095.0,579.1 C1104.9,571.7 1124.7,556.9 1130.6,552.4" fill="none" stroke="#333" stroke-width="4"/>
<path d="M952.4,623.7 C960.3,626.9 984.1,637.6 1000.0,642.7 C1015.9,647.9 1029.7,654.6 1047.5,654.6 C1065.3,654.6 1086.1,650.8 1106.9,642.7 C1127.7,634.6 1161.3,612.0 1172.2,605.9 M958.4,623.7 C967.3,624.7 993.0,629.6 1011.8,629.6 C1030.6,629.6 1051.4,625.7 1071.2,623.7 C1091.0,621.7 1120.7,618.8 1130.6,617.8 M1011.8,683.1 C1019.7,684.9 1043.6,693.0 1059.4,693.8 C1075.2,694.6 1099.0,688.9 1106.9,687.9" fill="none" stroke="#222" stroke-width="5"/>
</g>

</svg>
</body>
</html>
